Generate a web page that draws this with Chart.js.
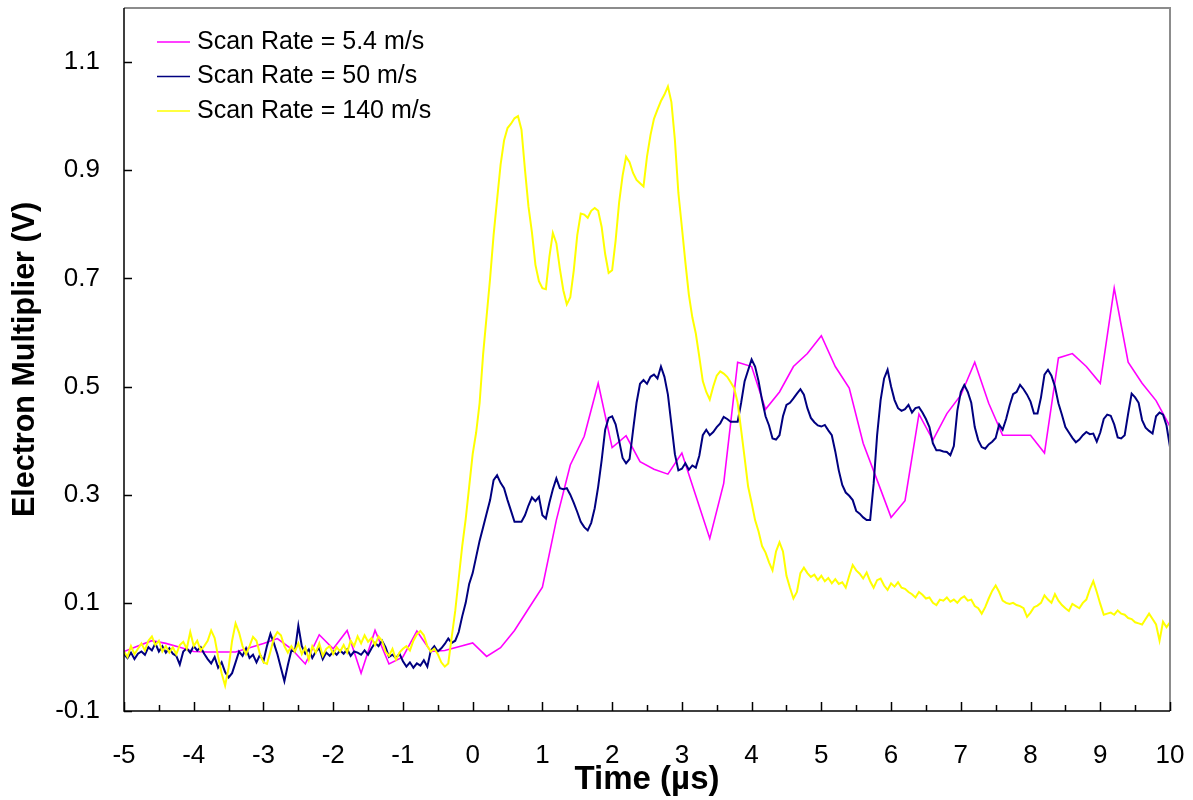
<!DOCTYPE html>
<html lang="en">
<head>
<meta charset="UTF-8">
<title>Electron Multiplier vs Time</title>
<script src="https://cdn.jsdelivr.net/npm/chart.js"></script>
<style>
  body { margin: 0; background: #fff; }
  canvas { display: block; }
</style>
</head>
<body>
<canvas id="scanChart" width="1193" height="800"></canvas>
<script>
// --- data (Electron Multiplier, V) ---
const seriesNames = ['Scan Rate = 5.4 m/s', 'Scan Rate = 50 m/s', 'Scan Rate = 140 m/s'];
const seriesColors = ['#ff00ff', '#000080', '#ffff00'];

// 5.4 m/s: one sample every 0.2 us from -5 us
const slowStart = -5, slowStep = 0.2;
const slowRate = [
  0.010, 0.020, 0.030, 0.025, 0.018,
  0.010, 0.009, 0.009, 0.009, 0.017,
  0.025, 0.034, 0.015, -0.013, 0.041,
  0.015, 0.049, -0.030, 0.049, -0.013,
  0.000, 0.048, 0.010, 0.012, 0.019,
  0.026, 0.001, 0.017, 0.049, 0.089,
  0.129, 0.253, 0.355, 0.408, 0.506,
  0.387, 0.409, 0.361, 0.347, 0.338,
  0.377, 0.298, 0.219, 0.321, 0.545,
  0.537, 0.458, 0.490, 0.537, 0.561,
  0.594, 0.537, 0.497, 0.395, 0.327,
  0.258, 0.289, 0.449, 0.401, 0.450,
  0.484, 0.545, 0.469, 0.410, 0.410,
  0.410, 0.377, 0.553, 0.561, 0.537,
  0.506, 0.682, 0.545, 0.506, 0.474,
  0.426
];

// 50 m/s and 140 m/s: one sample every 0.05 us from -5 us (one row = 1 us)
const fastStart = -5, fastStep = 0.05;
const midRate = [
  0.005,-0.002,0.008,-0.004,0.006,0.010,0.004,0.018,0.012,0.025,0.010,0.020,0.008,0.016,0.006,0.002,-0.014,0.010,0.016,0.008,
  0.020,0.012,0.018,0.006,-0.004,-0.012,0.000,-0.020,-0.010,-0.028,-0.038,-0.030,-0.010,0.010,0.002,0.016,-0.002,0.004,-0.010,0.004,
  -0.008,0.020,0.043,0.025,0.005,-0.020,-0.045,-0.015,0.012,0.010,0.058,0.020,0.006,0.014,-0.002,0.010,0.016,-0.004,0.008,0.002,
  0.010,0.004,0.012,0.006,0.014,0.002,0.010,0.008,0.004,0.012,0.004,0.016,0.026,0.020,0.030,0.018,0.000,0.004,-0.002,0.006,
  -0.008,-0.018,-0.010,-0.020,-0.012,-0.016,-0.006,-0.018,0.012,0.020,0.010,0.016,0.024,0.034,0.026,0.030,0.046,0.075,0.100,0.135,
  0.155,0.185,0.215,0.240,0.265,0.290,0.327,0.336,0.322,0.312,0.290,0.270,0.250,0.250,0.250,0.262,0.280,0.295,0.288,0.296,
  0.262,0.256,0.285,0.310,0.330,0.312,0.310,0.312,0.300,0.285,0.268,0.250,0.240,0.234,0.248,0.275,0.315,0.364,0.420,0.442,
  0.445,0.430,0.400,0.368,0.358,0.366,0.419,0.470,0.505,0.512,0.505,0.518,0.522,0.515,0.537,0.518,0.485,0.430,0.375,0.345,
  0.348,0.358,0.346,0.354,0.350,0.372,0.410,0.420,0.410,0.416,0.425,0.432,0.444,0.440,0.435,0.435,0.435,0.470,0.510,0.530,
  0.550,0.537,0.510,0.475,0.445,0.428,0.404,0.402,0.410,0.445,0.466,0.470,0.478,0.487,0.495,0.485,0.460,0.442,0.434,0.428,
  0.426,0.429,0.419,0.410,0.380,0.345,0.318,0.304,0.298,0.290,0.270,0.265,0.258,0.253,0.253,0.320,0.410,0.475,0.515,0.531,
  0.500,0.475,0.460,0.455,0.458,0.466,0.452,0.460,0.462,0.452,0.440,0.425,0.395,0.382,0.382,0.380,0.379,0.373,0.390,0.455,
  0.490,0.503,0.490,0.470,0.425,0.401,0.388,0.385,0.393,0.398,0.405,0.430,0.420,0.440,0.465,0.486,0.490,0.503,0.495,0.485,
  0.472,0.450,0.450,0.480,0.522,0.531,0.520,0.500,0.469,0.448,0.425,0.415,0.405,0.397,0.402,0.410,0.416,0.412,0.413,0.398,
  0.415,0.440,0.448,0.446,0.430,0.406,0.404,0.410,0.450,0.487,0.480,0.470,0.438,0.424,0.418,0.413,0.445,0.452,0.448,0.428,
  0.388
];
const fastRate = [
  0.010,0.000,0.020,0.005,0.015,0.025,0.012,0.030,0.038,0.022,0.030,0.010,0.020,0.008,0.018,0.005,0.022,0.028,0.015,0.046,
  0.020,0.030,0.012,0.020,0.030,0.049,0.035,0.000,-0.030,-0.053,-0.020,0.030,0.062,0.045,0.020,0.005,0.020,0.037,0.030,0.005,
  -0.010,-0.013,0.010,0.035,0.046,0.040,0.020,0.008,0.020,0.010,0.025,0.005,0.018,-0.005,0.020,0.008,0.025,0.002,0.015,0.020,
  0.005,0.018,0.010,0.022,0.008,0.030,0.020,0.038,0.025,0.040,0.028,0.035,0.022,0.038,0.030,0.010,0.002,0.015,-0.005,0.008,
  0.015,0.020,0.012,0.030,0.042,0.048,0.040,0.020,0.010,0.015,0.005,-0.010,-0.018,-0.012,0.037,0.085,0.145,0.205,0.255,0.315,
  0.375,0.415,0.470,0.560,0.630,0.700,0.780,0.845,0.910,0.955,0.978,0.986,0.996,1.000,0.975,0.901,0.833,0.785,0.725,0.695,
  0.682,0.680,0.740,0.784,0.765,0.718,0.678,0.652,0.665,0.715,0.780,0.820,0.818,0.812,0.825,0.830,0.825,0.795,0.745,0.710,
  0.715,0.770,0.840,0.890,0.925,0.915,0.895,0.882,0.876,0.870,0.925,0.965,0.995,1.012,1.028,1.040,1.055,1.026,0.956,0.858,
  0.795,0.730,0.670,0.628,0.598,0.555,0.510,0.490,0.476,0.500,0.520,0.528,0.524,0.518,0.508,0.497,0.470,0.420,0.368,0.315,
  0.285,0.253,0.232,0.205,0.193,0.175,0.160,0.195,0.212,0.195,0.150,0.128,0.108,0.120,0.155,0.165,0.155,0.148,0.152,0.142,
  0.150,0.140,0.146,0.136,0.144,0.135,0.138,0.128,0.150,0.170,0.160,0.154,0.145,0.156,0.140,0.128,0.142,0.145,0.132,0.124,
  0.136,0.130,0.138,0.128,0.126,0.120,0.116,0.110,0.120,0.115,0.108,0.110,0.100,0.096,0.106,0.104,0.110,0.102,0.106,0.100,
  0.108,0.112,0.104,0.106,0.094,0.090,0.080,0.092,0.108,0.122,0.132,0.120,0.104,0.100,0.098,0.100,0.096,0.094,0.090,0.074,
  0.082,0.092,0.095,0.100,0.114,0.106,0.100,0.116,0.104,0.096,0.090,0.085,0.098,0.094,0.090,0.100,0.106,0.125,0.140,0.120,
  0.098,0.078,0.080,0.082,0.078,0.086,0.080,0.078,0.072,0.070,0.064,0.062,0.060,0.070,0.080,0.070,0.060,0.030,0.065,0.055,
  0.064
];

// axes
const xMin = -5, xMax = 10, xStep = 1;
const yMin = -0.1, yMax = 1.2;
const yTicks = [-0.1, 0.1, 0.3, 0.5, 0.7, 0.9, 1.1];

const FONT = "'Liberation Sans', Arial, Helvetica, sans-serif";

function toPoints(values, start, step) {
  return values.map((v, i) => ({ x: Math.round((start + i * step) * 1000) / 1000, y: v }));
}

// inward tick marks + plot frame (Excel style)
const frameAndTicks = {
  id: 'frameAndTicks',
  afterDatasetsDraw(chart) {
    const { ctx, chartArea: a, scales: { x, y } } = chart;
    ctx.save();
    ctx.lineCap = 'butt';
    ctx.strokeStyle = '#8c8c8c';
    ctx.lineWidth = 2;
    ctx.beginPath();
    ctx.moveTo(a.left, a.top);
    ctx.lineTo(a.right, a.top);
    ctx.lineTo(a.right, a.bottom);
    ctx.stroke();

    ctx.strokeStyle = '#000';
    ctx.lineWidth = 1.5;
    ctx.beginPath();
    ctx.moveTo(a.left, a.top);
    ctx.lineTo(a.left, a.bottom);
    ctx.lineTo(a.right, a.bottom);
    yTicks.forEach(v => {
      const py = Math.round(y.getPixelForValue(v)) + 0.5;
      ctx.moveTo(a.left, py);
      ctx.lineTo(a.left + 8, py);
    });
    for (let k = 0; k <= (xMax - xMin) * 2; k++) {
      const t = xMin + k / 2;
      const px = Math.round(x.getPixelForValue(t)) + 0.5;
      const len = k % 2 === 0 ? 9 : 6;
      ctx.moveTo(px, a.bottom);
      ctx.lineTo(px, a.bottom - len);
    }
    ctx.stroke();
    ctx.restore();
  }
};

// legend inside the plot, top left
const insideLegend = {
  id: 'insideLegend',
  afterDraw(chart) {
    const { ctx, chartArea: a } = chart;
    ctx.save();
    ctx.font = '25px ' + FONT;
    ctx.textBaseline = 'middle';
    ctx.textAlign = 'left';
    seriesNames.forEach((name, i) => {
      const yy = a.top + 34 + i * 34.5;
      ctx.strokeStyle = seriesColors[i];
      ctx.lineWidth = 1.5;
      ctx.beginPath();
      ctx.moveTo(a.left + 33, yy);
      ctx.lineTo(a.left + 66, yy);
      ctx.stroke();
      ctx.fillStyle = '#000';
      ctx.fillText(name, a.left + 73, yy);
    });
    ctx.restore();
  }
};

new Chart(document.getElementById('scanChart'), {
  type: 'line',
  data: {
    datasets: [
      { label: seriesNames[0], data: toPoints(slowRate, slowStart, slowStep), borderColor: seriesColors[0], borderWidth: 1.6, order: 3 },
      { label: seriesNames[1], data: toPoints(midRate, fastStart, fastStep), borderColor: seriesColors[1], borderWidth: 2, order: 2 },
      { label: seriesNames[2], data: toPoints(fastRate, fastStart, fastStep), borderColor: seriesColors[2], borderWidth: 2, order: 1 }
    ]
  },
  options: {
    responsive: false,
    animation: false,
    parsing: false,
    layout: { padding: { top: 8, right: 23, left: 0, bottom: 0 } },
    elements: { point: { radius: 0 }, line: { tension: 0, fill: false } },
    plugins: { legend: { display: false }, tooltip: { enabled: false } },
    scales: {
      x: {
        type: 'linear',
        min: xMin,
        max: xMax,
        grid: { display: false, drawTicks: false },
        border: { display: false },
        ticks: { stepSize: xStep, padding: 29, color: '#000', font: { family: FONT, size: 26 }, callback: v => String(v) },
        title: { display: true, text: 'Time (µs)', color: '#000', font: { family: FONT, size: 33, weight: 'bold' }, padding: { top: 0, bottom: 0 } },
        afterFit: s => { s.height = 89; s.paddingLeft = 0; s.paddingRight = 0; }
      },
      y: {
        type: 'linear',
        min: yMin,
        max: yMax,
        grid: { display: false, drawTicks: false },
        border: { display: false },
        afterBuildTicks: s => { s.ticks = yTicks.map(v => ({ value: v })); },
        ticks: { padding: 24, color: '#000', font: { family: FONT, size: 26 }, callback: v => v.toFixed(1) },
        title: { display: true, text: 'Electron Multiplier (V)', color: '#000', font: { family: FONT, size: 30.5, weight: 'bold' }, padding: { top: 7, bottom: 0 } },
        afterFit: s => { s.width = 124; s.paddingTop = 0; s.paddingBottom = 0; }
      }
    }
  },
  plugins: [frameAndTicks, insideLegend]
});
</script>
</body>
</html>
